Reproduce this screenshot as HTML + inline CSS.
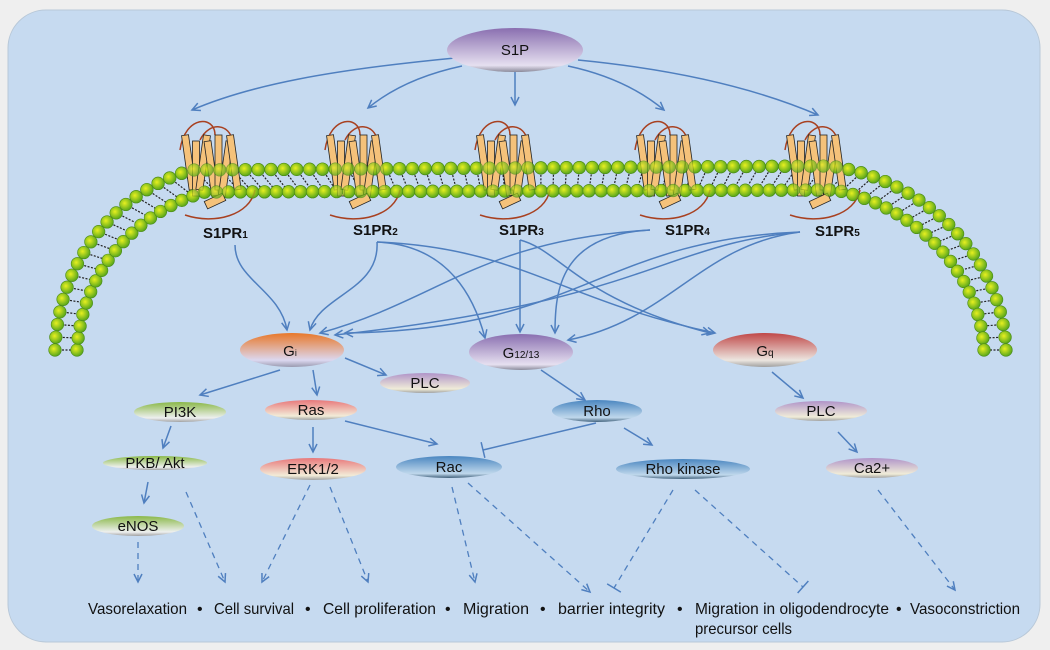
<!DOCTYPE html>
<html><head><meta charset="utf-8">
<style>
html,body{margin:0;padding:0;background:#efefef;}
svg{display:block;font-family:"Liberation Sans",sans-serif;}
</style></head>
<body>
<svg id="s" width="1050" height="650" viewBox="0 0 1050 650" xmlns="http://www.w3.org/2000/svg">
<defs>
<marker id="a" markerWidth="12" markerHeight="12" refX="9" refY="5" orient="auto" markerUnits="userSpaceOnUse">
<path d="M1,1 L9,5 L1,9" fill="none" stroke="#4f7fbf" stroke-width="1.5"/></marker>
<marker id="t" markerWidth="20" markerHeight="20" refX="2" refY="10" orient="auto" markerUnits="userSpaceOnUse">
<path d="M2,2 L2,18" stroke="#4f7fbf" stroke-width="1.5"/></marker>
<radialGradient id="hd" cx="0.4" cy="0.4" r="0.6"><stop offset="0" stop-color="#e8f020"/><stop offset="1" stop-color="#5aa81c"/></radialGradient>
<linearGradient id="gP" x1="0" y1="0" x2="0" y2="1"><stop offset="0" stop-color="#8a6fb0"/><stop offset="0.85" stop-color="#e6e0f0"/><stop offset="1" stop-color="#8a8a9a"/></linearGradient>
<linearGradient id="gO" x1="0" y1="0" x2="0" y2="1"><stop offset="0" stop-color="#e8782a"/><stop offset="0.8" stop-color="#dcd8f0"/><stop offset="1" stop-color="#9a9ab0"/></linearGradient>
<linearGradient id="gR" x1="0" y1="0" x2="0" y2="1"><stop offset="0" stop-color="#c04848"/><stop offset="0.8" stop-color="#ece6e0"/><stop offset="1" stop-color="#a0a0a0"/></linearGradient>
<linearGradient id="gL" x1="0" y1="0" x2="0" y2="1"><stop offset="0" stop-color="#b094c8"/><stop offset="0.8" stop-color="#f0ecd8"/><stop offset="1" stop-color="#a0a0a0"/></linearGradient>
<linearGradient id="gG" x1="0" y1="0" x2="0" y2="1"><stop offset="0" stop-color="#8ab848"/><stop offset="0.8" stop-color="#eef0f0"/><stop offset="1" stop-color="#a0a0a0"/></linearGradient>
<linearGradient id="gS" x1="0" y1="0" x2="0" y2="1"><stop offset="0" stop-color="#e8787a"/><stop offset="0.8" stop-color="#f2ecd8"/><stop offset="1" stop-color="#a0a0a0"/></linearGradient>
<linearGradient id="gB" x1="0" y1="0" x2="0" y2="1"><stop offset="0" stop-color="#4a86c0"/><stop offset="0.8" stop-color="#c0d8ec"/><stop offset="1" stop-color="#40607a"/></linearGradient>
</defs>
<rect x="8" y="10" width="1032" height="632" rx="38" fill="#c6daf0" stroke="#b8c8d8"/>
<g id="mem"></g>
<g id="rec"></g>
<g fill="none" stroke="#4f7fbf" stroke-width="1.5" marker-end="url(#a)">
<path d="M455,58 C330,70 250,85 192,110"/>
<path d="M462,66 C420,75 390,90 368,108"/>
<path d="M515,72 L515,105"/>
<path d="M568,66 C610,75 640,90 664,110"/>
<path d="M578,60 C680,70 760,90 818,115"/>
<path d="M235,245 C235,280 280,290 287,330"/>
<path d="M377,242 C380,290 320,295 310,330"/>
<path d="M377,242 C450,245 475,300 485,338"/>
<path d="M377,242 C520,248 560,300 715,333"/>
<path d="M520,240 L520,332"/>
<path d="M520,240 C560,250 580,300 710,333"/>
<path d="M650,230 C560,235 555,290 555,333"/>
<path d="M650,230 C480,240 440,300 320,333"/>
<path d="M800,232 C660,245 650,300 335,335"/>
<path d="M800,232 C700,245 670,320 568,340"/>
<path d="M800,232 C600,240 580,330 345,333"/>
<path d="M280,370 L200,395"/>
<path d="M313,370 L317,395"/>
<path d="M345,358 L386,375"/>
<path d="M541,370 L585,400"/>
<path d="M772,372 L803,398"/>
<path d="M838,432 L857,452"/>
<path d="M624,428 L652,445"/>
<path d="M345,421 L437,444"/>
<path d="M171,426 L163,448"/>
<path d="M148,482 L144,503"/>
<path d="M313,427 L313,452"/>
</g>
<path d="M596,423 L483,450" fill="none" stroke="#4f7fbf" stroke-width="1.5" marker-end="url(#t)"/>
<g fill="none" stroke="#4f7fbf" stroke-width="1.3" stroke-dasharray="6,5">
<path d="M138,542 L138,582" marker-end="url(#a)"/>
<path d="M186,492 L225,582" marker-end="url(#a)"/>
<path d="M310,485 L262,582" marker-end="url(#a)"/>
<path d="M330,487 L368,582" marker-end="url(#a)"/>
<path d="M452,487 L475,582" marker-end="url(#a)"/>
<path d="M468,483 L590,592" marker-end="url(#a)"/>
<path d="M673,490 L614,588" marker-end="url(#t)"/>
<path d="M695,490 L803,587" marker-end="url(#t)"/>
<path d="M878,490 L955,590" marker-end="url(#a)"/>
</g>
<g font-size="15" text-anchor="middle" fill="#111">
<ellipse cx="515" cy="50" rx="68" ry="22" fill="url(#gP)"/><text x="515" y="55">S1P</text>
<ellipse cx="292" cy="350" rx="52" ry="17" fill="url(#gO)"/><text x="290" y="356">G<tspan font-size="9">i</tspan></text>
<ellipse cx="521" cy="352" rx="52" ry="18" fill="url(#gP)"/><text x="521" y="358">G<tspan font-size="10">12/13</tspan></text>
<ellipse cx="765" cy="350" rx="52" ry="17" fill="url(#gR)"/><text x="765" y="356">G<tspan font-size="10">q</tspan></text>
<ellipse cx="425" cy="383" rx="45" ry="10" fill="url(#gL)"/><text x="425" y="388">PLC</text>
<ellipse cx="180" cy="412" rx="46" ry="10" fill="url(#gG)"/><text x="180" y="417">PI3K</text>
<ellipse cx="311" cy="410" rx="46" ry="10" fill="url(#gS)"/><text x="311" y="415">Ras</text>
<ellipse cx="597" cy="411" rx="45" ry="11" fill="url(#gB)"/><text x="597" y="416">Rho</text>
<ellipse cx="821" cy="411" rx="46" ry="10" fill="url(#gL)"/><text x="821" y="416">PLC</text>
<ellipse cx="155" cy="463" rx="52" ry="7" fill="url(#gG)"/><text x="155" y="468">PKB/ Akt</text>
<ellipse cx="313" cy="469" rx="53" ry="11" fill="url(#gS)"/><text x="313" y="474">ERK1/2</text>
<ellipse cx="449" cy="467" rx="53" ry="11" fill="url(#gB)"/><text x="449" y="472">Rac</text>
<ellipse cx="683" cy="469" rx="67" ry="10" fill="url(#gB)"/><text x="683" y="474">Rho kinase</text>
<ellipse cx="872" cy="468" rx="46" ry="10" fill="url(#gL)"/><text x="872" y="473">Ca2+</text>
<ellipse cx="138" cy="526" rx="46" ry="10" fill="url(#gG)"/><text x="138" y="531">eNOS</text>
</g>
<g font-size="15" font-weight="bold" fill="#111">
<text x="203" y="238">S1PR<tspan font-size="10">1</tspan></text>
<text x="353" y="235">S1PR<tspan font-size="10">2</tspan></text>
<text x="499" y="235">S1PR<tspan font-size="10">3</tspan></text>
<text x="665" y="235">S1PR<tspan font-size="10">4</tspan></text>
<text x="815" y="236">S1PR<tspan font-size="10">5</tspan></text>
</g>
<g font-size="16" fill="#111">
<text x="88" y="614" textLength="99" lengthAdjust="spacingAndGlyphs">Vasorelaxation</text>
<text x="197" y="614">•</text>
<text x="214" y="614" textLength="80" lengthAdjust="spacingAndGlyphs">Cell survival</text>
<text x="305" y="614">•</text>
<text x="323" y="614" textLength="113" lengthAdjust="spacingAndGlyphs">Cell proliferation</text>
<text x="445" y="614">•</text>
<text x="463" y="614" textLength="66" lengthAdjust="spacingAndGlyphs">Migration</text>
<text x="540" y="614">•</text>
<text x="558" y="614" textLength="107" lengthAdjust="spacingAndGlyphs">barrier integrity</text>
<text x="677" y="614">•</text>
<text x="695" y="614" textLength="194" lengthAdjust="spacingAndGlyphs">Migration in oligodendrocyte</text>
<text x="896" y="614">•</text>
<text x="910" y="614" textLength="110" lengthAdjust="spacingAndGlyphs">Vasoconstriction</text>
<text x="695" y="634" textLength="97" lengthAdjust="spacingAndGlyphs">precursor cells</text>
</g>
</svg>
<script>
(function(){
var NS="http://www.w3.org/2000/svg",s=document.getElementById('s'),mem=document.getElementById('mem'),rec=document.getElementById('rec');
function mk(t,a,p){var e=document.createElementNS(NS,t);for(var k in a)e.setAttribute(k,a[k]);(p||mem).appendChild(e);return e;}
var o=mk('path',{d:"M55,350 C58,262 115,192 192,170 L830,166 C930,180 1003,262 1006,350",fill:"none"});
var i=mk('path',{d:"M77,350 C82,272 135,212 205,192 L835,190 C915,206 980,272 984,350",fill:"none"});
var lo=o.getTotalLength(),li=i.getTotalLength(),n=Math.round(lo/12.8);
var heads=[];
for(var k=0;k<=n;k++){var p=o.getPointAtLength(lo*k/n),q=i.getPointAtLength(li*k/n);
mk('line',{x1:p.x,y1:p.y,x2:q.x,y2:q.y,stroke:"#222","stroke-width":"1.2","stroke-dasharray":"2,1.5"});heads.push(p,q);}
heads.forEach(function(p){mk('circle',{cx:p.x,cy:p.y,r:6.3,fill:"url(#hd)",stroke:"#4a8a18","stroke-width":"0.6"});});
[210,355,505,665,815].forEach(function(cx){
mk('path',{d:"M"+(cx-30)+",150 C"+(cx-25)+",115 "+(cx+5)+",115 "+(cx+5)+",135 M"+(cx-10)+",140 C"+(cx)+",120 "+(cx+20)+",125 "+(cx+22)+",140 M"+(cx-25)+",215 C"+(cx+5)+",225 "+(cx+40)+",215 "+(cx+45)+",190",fill:"none",stroke:"#a84020","stroke-width":"1.5"},rec);
for(var j=0;j<7;j++){var x=cx-25+j*7.5,y=135+(j%2)*6;
mk('rect',{x:x,y:y,width:7,height:55,fill:"#f5c27a",stroke:"#222","stroke-width":"0.8",transform:"rotate("+((j%3)-1)*8+" "+(x+3)+" "+(y+25)+")"},rec);}
mk('rect',{x:cx-5,y:197,width:20,height:8,fill:"#f5c27a",stroke:"#222","stroke-width":"0.8",transform:"rotate(-25 "+(cx+5)+" 201)"},rec);
});
s.insertBefore(rec,mem.nextSibling);
var g2=document.createElementNS(NS,'g');heads.forEach(function(p){if(p.y<200)mk('circle',{cx:p.x,cy:p.y,r:6.3,fill:"url(#hd)",stroke:"#4a8a18","stroke-width":"0.6",opacity:"0.75"},g2);});
s.insertBefore(g2,rec.nextSibling);
})();
</script>
</body></html>
